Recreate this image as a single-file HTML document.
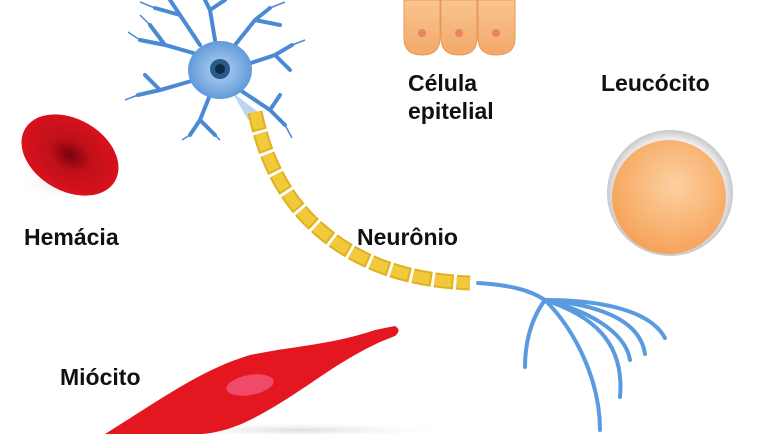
<!DOCTYPE html>
<html><head><meta charset="utf-8"><style>
html,body{margin:0;padding:0;background:#fff;}
svg{display:block}
text{font-family:"Liberation Sans",Arial,sans-serif;font-weight:bold;font-size:23px;fill:#111}
</style></head><body>
<svg width="768" height="434" viewBox="0 0 768 434">
<defs>
<radialGradient id="rbc" cx="0.5" cy="0.5" r="0.6"><stop offset="0" stop-color="#7a0010"/><stop offset="0.35" stop-color="#c0101a"/><stop offset="1" stop-color="#e0121e"/></radialGradient>
<radialGradient id="leu" cx="0.55" cy="0.4" r="0.6"><stop offset="0" stop-color="#fcd0a0"/><stop offset="1" stop-color="#f6a35a"/></radialGradient>
<radialGradient id="leuo" cx="0.5" cy="0.5" r="0.5"><stop offset="0.85" stop-color="#f0f0f0"/><stop offset="1" stop-color="#c8c8c8"/></radialGradient>
<radialGradient id="soma" cx="0.5" cy="0.5" r="0.6"><stop offset="0" stop-color="#b8d4f2"/><stop offset="1" stop-color="#4f8fd6"/></radialGradient>
<linearGradient id="ep" x1="0" y1="0" x2="0" y2="1"><stop offset="0" stop-color="#f9c58f"/><stop offset="1" stop-color="#f3a868"/></linearGradient>
<radialGradient id="shadow" cx="0.5" cy="0.5" r="0.5"><stop offset="0" stop-color="#ddd"/><stop offset="1" stop-color="#fff" stop-opacity="0"/></radialGradient>
</defs>

<ellipse cx="72" cy="185" rx="55" ry="14" fill="url(#shadow)"/>
<ellipse cx="70" cy="155" rx="52" ry="36" transform="rotate(30 70 155)" fill="url(#rbc)"/>

<g stroke="#e8995a" stroke-width="1">
<path d="M404 0 H440 V38 Q440 55 422 55 Q404 55 404 38 Z" fill="url(#ep)"/>
<path d="M441 0 H477 V38 Q477 55 459 55 Q441 55 441 38 Z" fill="url(#ep)"/>
<path d="M478 0 H515 V38 Q515 55 496 55 Q478 55 478 38 Z" fill="url(#ep)"/>
</g>
<circle cx="422" cy="33" r="4" fill="#e9826a"/><circle cx="459" cy="33" r="4" fill="#e9826a"/><circle cx="496" cy="33" r="4" fill="#e9826a"/>

<circle cx="670" cy="193" r="63" fill="url(#leuo)"/>
<circle cx="669" cy="197" r="57" fill="url(#leu)"/>

<g stroke="#4a8ad4" stroke-width="4" fill="none" stroke-linecap="round">
<path d="M200 45 L180 15 L170 0 M180 15 L155 8"/>
<path d="M215 40 L210 10 L205 0 M210 10 L225 0"/>
<path d="M235 45 L255 20 L270 8 M255 20 L280 25"/>
<path d="M245 65 L275 55 L292 45 M275 55 L290 70"/>
<path d="M240 90 L270 110 L285 125 M270 110 L280 95"/>
<path d="M195 80 L160 90 L138 95 M160 90 L145 75"/>
<path d="M200 55 L165 45 L140 40 M165 45 L150 25"/>
<path d="M210 95 L200 120 L190 135 M200 120 L215 135"/>
</g>
<g stroke="#4a8ad4" stroke-width="1.5" fill="none">
<path d="M170 0 L160 -5 M155 8 L140 2 M270 8 L285 2 M292 45 L305 40 M285 125 L292 138 M138 95 L125 100 M140 40 L128 32 M190 135 L182 140 M215 135 L220 140 M150 25 L140 15"/>
</g>
<path d="M232 92 L258 112 L248 120 Z" fill="#bcd6f2"/>
<ellipse cx="220" cy="70" rx="32" ry="29" fill="url(#soma)"/>
<circle cx="220" cy="69" r="10" fill="#2a5a8a"/><circle cx="220" cy="69" r="5" fill="#0d2b4a"/>

<path d="M255 112 C265 160 285 200 320 230 C355 260 400 280 470 283" stroke="#e0b020" stroke-width="15" fill="none" stroke-dasharray="19 3" stroke-linecap="butt"/>
<path d="M255 112 C265 160 285 200 320 230 C355 260 400 280 470 283" stroke="#f2c93a" stroke-width="11" fill="none" stroke-dasharray="17 5"/>

<g stroke="#5a9ae0" stroke-width="4" fill="none" stroke-linecap="round">
<path d="M478 283 C510 285 530 290 545 300"/>
<path d="M545 300 C600 300 650 310 665 338"/>
<path d="M545 300 C600 305 640 320 645 354"/>
<path d="M545 300 C590 315 625 340 620 397"/>
<path d="M545 300 C575 330 600 380 600 430"/>
<path d="M545 300 C530 320 525 345 525 367"/>
<path d="M545 300 C585 310 625 330 630 360"/>
</g>

<ellipse cx="300" cy="430" rx="160" ry="8" fill="url(#shadow)"/>
<path d="M105 434 C160 400 200 370 250 355 C300 345 330 345 375 330 L395 326 Q402 330 395 336 L380 342 C330 365 300 395 250 420 C230 430 210 434 200 434 Z" fill="#e4161f"/>
<ellipse cx="250" cy="385" rx="24" ry="10" transform="rotate(-10 250 385)" fill="#f04a6a"/>

<text x="24" y="245">Hemácia</text>
<text x="357" y="245">Neurônio</text>
<text x="408" y="91">Célula</text>
<text x="408" y="119">epitelial</text>
<text x="601" y="91">Leucócito</text>
<text x="60" y="385">Miócito</text>
</svg>
</body></html>
